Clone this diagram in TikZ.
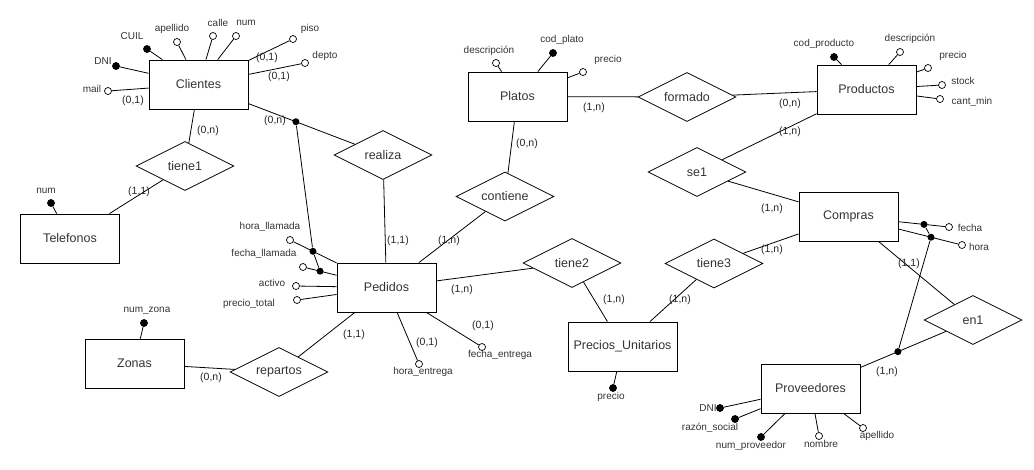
\documentclass[tikz,border=0pt]{standalone}
\usepackage{fontspec}
\setmainfont{Liberation Sans}
\usetikzlibrary{shapes.geometric,calc}

\begin{document}
\begin{tikzpicture}[x=1pt, y=-1pt, line width=.8pt,
    entidad/.style={draw, rectangle, minimum width=99pt, minimum height=49pt, inner sep=0pt, font=\fontsize{12.5}{15}\selectfont, text=black!80},
    relacion/.style={draw, diamond, aspect=2, minimum width=98pt, minimum height=49pt, inner sep=0pt, font=\fontsize{12.5}{15}\selectfont, text=black!80},
    atr/.style={draw, circle, fill=white, inner sep=0pt, minimum size=7pt, line width=.7pt},
    clave/.style={atr, fill=black},
    idpunto/.style={circle, fill=black, inner sep=0pt, minimum size=7pt},
    etiq/.style={font=\fontsize{10}{12}\selectfont, text=black!80, inner sep=0pt},
    card/.style={font=\fontsize{10.5}{12}\selectfont, text=black!85, inner sep=0pt}]

    \useasboundingbox (0,0) rectangle (1034,469);

    % entidades
    \node[entidad] (clientes) at (198.5,84.5) {Clientes};
    \node[entidad] (platos) at (517.5,96.5) {Platos};
    \node[entidad] (productos) at (866.5,89.5) {Productos};
    \node[entidad] (telefonos) at (70,238.5) {Telefonos};
    \node[entidad] (pedidos) at (386.5,287.5) {Pedidos};
    \node[entidad] (compras) at (848.5,216.5) {Compras};
    \node[entidad] (zonas) at (134.5,363.5) {Zonas};
    \node[entidad, minimum width=109pt] (precios) at (622.5,346.5) {Precios\_Unitarios};
    \node[entidad] (proveedores) at (810.5,388.5) {Proveedores};

    % relaciones
    \node[relacion] (tiene1) at (185,166) {tiene1};
    \node[relacion] (realiza) at (383,155) {realiza};
    \node[relacion] (contiene) at (505,196.5) {contiene};
    \node[relacion] (formado) at (687,97) {formado};
    \node[relacion] (se1) at (697,172) {se1};
    \node[relacion] (tiene2) at (572,263) {tiene2};
    \node[relacion] (tiene3) at (714,263.5) {tiene3};
    \node[relacion] (en1) at (973,320) {en1};
    \node[relacion] (repartos) at (279,372) {repartos};

    \draw (clientes) -- (tiene1) -- (telefonos);
    \draw (clientes) -- (realiza) -- (pedidos);
    \draw (platos) -- (contiene) -- (pedidos);
    \draw (platos) -- (formado) -- (productos);
    \draw (productos) -- (se1) -- (compras);
    \draw (pedidos) -- (tiene2) -- (precios);
    \draw (precios) -- (tiene3) -- (compras);
    \draw (compras) -- (en1) -- (proveedores);
    \draw (zonas) -- (repartos) -- (pedidos);

    % atributos de Clientes
    \node[clave] (cliCuil) at (147,49) {};
    \node[atr] (cliApellido) at (177,42) {};
    \node[atr] (cliCalle) at (213,36) {};
    \node[atr] (cliNum) at (236,36) {};
    \node[atr] (cliPiso) at (293,39) {};
    \node[atr] (cliDepto) at (305,63) {};
    \node[clave] (cliDni) at (116,66) {};
    \node[atr] (cliMail) at (108,91) {};
    \draw (cliCuil) -- (clientes); \draw (cliApellido) -- (clientes);
    \draw (cliCalle) -- (clientes); \draw (cliNum) -- (clientes);
    \draw (cliPiso) -- (clientes); \draw (cliDepto) -- (clientes);
    \draw (cliDni) -- (clientes); \draw (cliMail) -- (clientes);
    \node[etiq] (tCliCuil) at (132,36) {CUIL};
    \node[etiq] (tCliApellido) at (172,29) {apellido};
    \node[etiq] (tCliCalle) at (218,23) {calle};
    \node[etiq] (tCliNum) at (246,23) {num};
    \node[etiq] (tCliPiso) at (310,29) {piso};
    \node[etiq] (tCliDepto) at (325,56) {depto};
    \node[etiq] (tCliDni) at (103,61) {DNI};
    \node[etiq] (tCliMail) at (92,89) {mail};

    % Telefonos y Zonas
    \node[clave] (telNum) at (51,203) {};
    \draw (telNum) -- (telefonos);
    \node[etiq] (tTelNum) at (46,191) {num};
    \node[clave] (zonNum) at (144,323) {};
    \draw (zonNum) -- (zonas);
    \node[etiq] (tZonNum) at (147,311) {num\_zona};

    % Platos
    \node[atr] (plaDesc) at (496,63) {};
    \node[clave] (plaCod) at (553,53) {};
    \node[atr] (plaPrecio) at (583,72) {};
    \draw (plaDesc) -- (platos); \draw (plaCod) -- (platos); \draw (plaPrecio) -- (platos);
    \node[etiq] (tPlaDesc) at (489,51) {descripción};
    \node[etiq] (tPlaCod) at (562,40) {cod\_plato};
    \node[etiq] (tPlaPrecio) at (608,60) {precio};

    % Productos
    \node[clave] (proCod) at (834,57) {};
    \node[atr] (proDesc) at (900,52) {};
    \node[atr] (proPrecio) at (928,68) {};
    \node[atr] (proStock) at (942,85) {};
    \node[atr] (proCant) at (940,99) {};
    \draw (proCod) -- (productos); \draw (proDesc) -- (productos);
    \draw (proPrecio) -- (productos); \draw (proStock) -- (productos);
    \draw (proCant) -- (productos);
    \node[etiq] (tProCod) at (824,44) {cod\_producto};
    \node[etiq] (tProDesc) at (910,39) {descripción};
    \node[etiq] (tProPrecio) at (953,56) {precio};
    \node[etiq] (tProStock) at (963,81) {stock};
    \node[etiq] (tProCant) at (972,102) {cant\_min};

    % Pedidos
    \node[atr] (pedHoraLl) at (290,240) {};
    \node[atr] (pedFechaLl) at (303,267) {};
    \node[atr] (pedActivo) at (296,286) {};
    \node[atr] (pedPrecio) at (297,300) {};
    \node[atr] (pedHoraEn) at (419,364) {};
    \node[atr] (pedFechaEn) at (482,347) {};
    \draw (pedHoraLl) -- (pedidos); \draw (pedFechaLl) -- (pedidos);
    \draw (pedActivo) -- (pedidos); \draw (pedPrecio) -- (pedidos);
    \draw (pedHoraEn) -- (pedidos); \draw (pedFechaEn) -- (pedidos);
    \node[etiq] (tPedHoraLl) at (270,227) {hora\_llamada};
    \node[etiq] (tPedFechaLl) at (264,254) {fecha\_llamada};
    \node[etiq] (tPedActivo) at (272,283) {activo};
    \node[etiq] (tPedPrecio) at (249,304) {precio\_total};
    \node[etiq] (tPedHoraEn) at (423,372) {hora\_entrega};
    \node[etiq] (tPedFechaEn) at (500,355) {fecha\_entrega};

    % identificador de Pedidos
    \node[idpunto] (idCli) at ($(clientes)!0.528!(realiza)$) {};
    \node[idpunto] (idHoraLl) at ($(pedHoraLl)!0.238!(pedidos)$) {};
    \node[idpunto] (idFechaLl) at ($(pedFechaLl)!0.204!(pedidos)$) {};
    \draw (idCli) -- (idHoraLl) -- (idFechaLl);

    % Precios_Unitarios
    \node[clave] (preImp) at (613,388) {};
    \draw (preImp) -- (precios);
    \node[etiq] (tPreImp) at (611,397) {precio};

    % Compras
    \node[atr] (comFecha) at (949,227) {};
    \node[atr] (comHora) at (962,245) {};
    \draw (comFecha) -- (compras); \draw (comHora) -- (compras);
    \node[etiq] (tComFecha) at (970,228) {fecha};
    \node[etiq] (tComHora) at (979,247) {hora};

    % Proveedores
    \node[clave] (provDni) at (720,408) {};
    \node[clave] (provRazon) at (735,419) {};
    \node[clave] (provNum) at (761,437) {};
    \node[atr] (provNombre) at (819,436) {};
    \node[atr] (provApellido) at (863,428) {};
    \draw (provDni) -- (proveedores); \draw (provRazon) -- (proveedores);
    \draw (provNum) -- (proveedores); \draw (provNombre) -- (proveedores);
    \draw (provApellido) -- (proveedores);
    \node[etiq] (tProvDni) at (708,408) {DNI};
    \node[etiq] (tProvRazon) at (710,428) {razón\_social};
    \node[etiq] (tProvNum) at (751,446) {num\_proveedor};
    \node[etiq] (tProvNombre) at (821,444) {nombre};
    \node[etiq] (tProvApellido) at (877,436) {apellido};

    % identificador de Compras
    \node[idpunto] (idComFecha) at ($(comFecha)!0.249!(compras)$) {};
    \node[idpunto] (idComHora) at ($(comHora)!0.273!(compras)$) {};
    \node[idpunto] (idProv) at ($(proveedores)!0.538!(en1)$) {};
    \draw (idComFecha) -- (idComHora) -- (idProv);

    % cardinalidades
    \node[card] (cCliPiso) at (267,58) {(0,1)};
    \node[card] (cCliDepto) at (279,77) {(0,1)};
    \node[card] (cCliMail) at (133,101) {(0,1)};
    \node[card] (cCliTiene1) at (208,131) {(0,n)};
    \node[card] (cCliRealiza) at (275,121) {(0,n)};
    \node[card] (cTelTiene1) at (139,192) {(1,1)};
    \node[card] (cPlaFormado) at (594,108) {(1,n)};
    \node[card] (cPlaContiene) at (527,144) {(0,n)};
    \node[card] (cProFormado) at (790,104) {(0,n)};
    \node[card] (cProSe1) at (790,132) {(1,n)};
    \node[card] (cPedRealiza) at (398,241) {(1,1)};
    \node[card] (cPedContiene) at (449,241) {(1,n)};
    \node[card] (cPedTiene2) at (462,290) {(1,n)};
    \node[card] (cPedRepartos) at (354,335) {(1,1)};
    \node[card] (cPedHoraEn) at (427,343) {(0,1)};
    \node[card] (cPedFechaEn) at (483,326) {(0,1)};
    \node[card] (cPreTiene2) at (614,300) {(1,n)};
    \node[card] (cPreTiene3) at (680,300) {(1,n)};
    \node[card] (cComSe1) at (772,209) {(1,n)};
    \node[card] (cComTiene3) at (772,250) {(1,n)};
    \node[card] (cComEn1) at (909,264) {(1,1)};
    \node[card] (cProvEn1) at (887,372) {(1,n)};
    \node[card] (cZonRepartos) at (211,378) {(0,n)};

\end{tikzpicture}
\end{document}
